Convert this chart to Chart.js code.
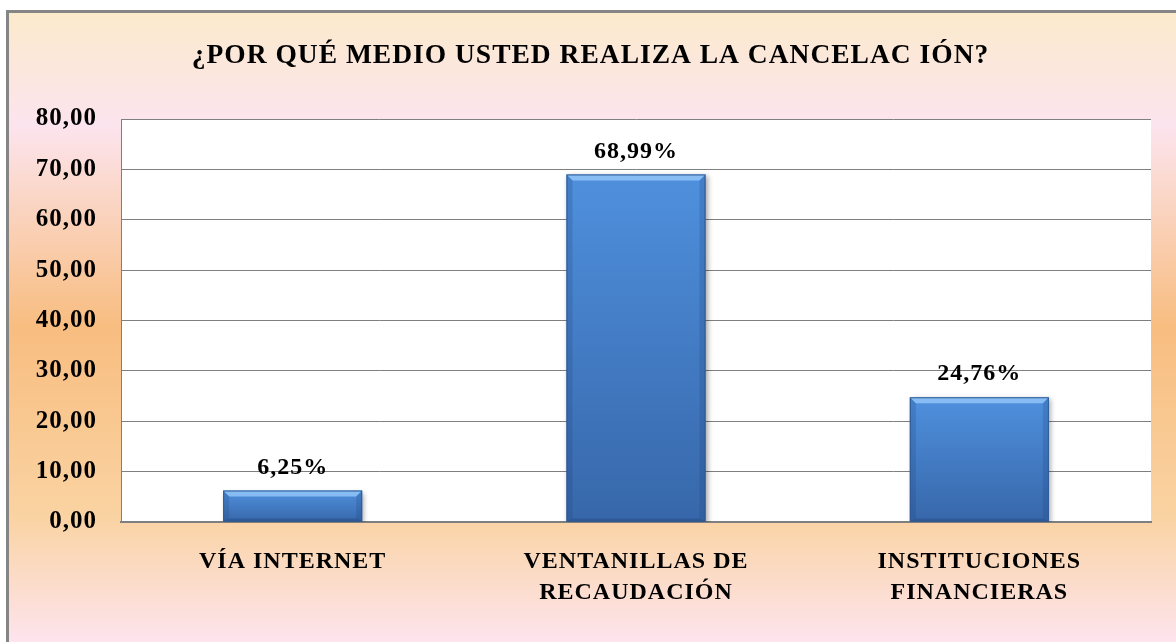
<!DOCTYPE html>
<html>
<head>
<meta charset="utf-8">
<script src="https://cdn.jsdelivr.net/npm/chart.js@4.4.1/dist/chart.umd.min.js"></script>
<style>
  html, body { margin: 0; padding: 0; background: #fff; }
</style>
</head>
<body>
<canvas id="chart" width="1176" height="642"></canvas>
<script>
const chartTitle = '¿POR QUÉ MEDIO USTED REALIZA LA CANCELAC IÓN?';
const categories = [['VÍA INTERNET'], ['VENTANILLAS DE', 'RECAUDACIÓN'], ['INSTITUCIONES', 'FINANCIERAS']];
const percentages = [6.25, 68.99, 24.76];
const yTicks = [0, 10, 20, 30, 40, 50, 60, 70, 80];

const serif = 'Liberation Serif, Times New Roman, serif';
const fmt = v => v.toFixed(2).replace('.', ',');

// page background, frame and white plot area
const backdrop = {
  id: 'backdrop',
  beforeDraw(chart) {
    const c = chart.ctx, a = chart.chartArea;
    c.save();
    c.fillStyle = '#fff';
    c.fillRect(0, 0, chart.width, chart.height);
    const g = c.createLinearGradient(0, 12, 0, chart.height);
    g.addColorStop(0, '#fbeacc');
    g.addColorStop(0.18, '#fce4ee');
    g.addColorStop(0.5, '#f8bd80');
    g.addColorStop(0.8, '#fad3a2');
    g.addColorStop(1, '#fde4ee');
    c.fillStyle = g;
    c.fillRect(8, 12, chart.width, chart.height);
    c.strokeStyle = '#858585';
    c.lineWidth = 3;
    c.strokeRect(7.5, 11.5, chart.width + 10, chart.height + 10);
    c.fillStyle = '#fff';
    c.fillRect(a.left, a.top, a.right - a.left, a.bottom - a.top);
    c.restore();
    c.letterSpacing = '1px';
  }
};

// soft shadow under the bars and a bevelled edge on top
const barLook = {
  id: 'barLook',
  beforeDatasetDraw(chart) {
    const c = chart.ctx;
    c.save();
    c.shadowColor = 'rgba(0,0,0,0.35)';
    c.shadowBlur = 5;
    c.shadowOffsetX = 2;
    c.shadowOffsetY = 2;
  },
  afterDatasetDraw(chart, args) {
    const c = chart.ctx;
    c.restore();
    args.meta.data.forEach(bar => {
      const l = bar.x - bar.width / 2, r = bar.x + bar.width / 2;
      const t = bar.y, b = bar.base, d = 6;
      c.save();
      c.fillStyle = 'rgba(150,200,250,0.8)';
      c.beginPath();
      c.moveTo(l, t); c.lineTo(r, t); c.lineTo(r - d, t + d); c.lineTo(l + d, t + d);
      c.closePath(); c.fill();
      c.fillStyle = 'rgba(25,60,115,0.2)';
      c.beginPath();
      c.moveTo(l, t); c.lineTo(l + d, t + d); c.lineTo(l + d, b - 3); c.lineTo(l, b);
      c.closePath(); c.fill();
      c.beginPath();
      c.moveTo(r, t); c.lineTo(r - d, t + d); c.lineTo(r - d, b - 3); c.lineTo(r, b);
      c.closePath(); c.fill();
      c.fillStyle = 'rgba(20,45,90,0.25)';
      c.beginPath();
      c.moveTo(l, b); c.lineTo(l + d, b - 3); c.lineTo(r - d, b - 3); c.lineTo(r, b);
      c.closePath(); c.fill();
      c.strokeStyle = '#2d5a94';
      c.lineWidth = 1;
      c.strokeRect(l + 0.5, t + 0.5, r - l - 1, b - t - 1);
      c.restore();
    });
  }
};

// percentage above each bar
const valueLabels = {
  id: 'valueLabels',
  afterDatasetsDraw(chart) {
    const c = chart.ctx;
    const meta = chart.getDatasetMeta(0);
    c.save();
    c.font = 'bold 24px ' + serif;
    c.fillStyle = '#000';
    c.textAlign = 'center';
    c.textBaseline = 'middle';
    meta.data.forEach((bar, i) => {
      c.fillText(fmt(percentages[i]) + '%', bar.x, bar.y - 23);
    });
    c.restore();
  }
};

new Chart(document.getElementById('chart'), {
  type: 'bar',
  data: {
    labels: categories,
    datasets: [{
      data: percentages,
      backgroundColor: function (ctx) {
        const chart = ctx.chart;
        if (!chart.chartArea) return '#4a86d0';
        const y = chart.scales.y;
        const top = y.getPixelForValue(ctx.raw);
        const base = y.getPixelForValue(0);
        const g = chart.ctx.createLinearGradient(0, top, 0, base);
        g.addColorStop(0, '#4f90dd');
        g.addColorStop(1, '#3767aa');
        return g;
      },
      borderWidth: 0,
      categoryPercentage: 1,
      barPercentage: 0.405
    }]
  },
  options: {
    responsive: false,
    animation: false,
    devicePixelRatio: 1,
    layout: { padding: { left: 30, right: 25, top: 0, bottom: 0 } },
    plugins: {
      legend: { display: false },
      tooltip: { enabled: false },
      title: {
        display: true,
        text: chartTitle,
        color: '#000',
        font: { family: serif, size: 27.5, weight: 'bold' },
        padding: { top: 39, bottom: 47 }
      }
    },
    scales: {
      x: {
        grid: { display: false, drawTicks: false },
        border: { color: '#7f7f7f', width: 2 },
        ticks: {
          color: '#000',
          font: { family: serif, size: 24, weight: 'bold', lineHeight: 1.3 },
          padding: 24,
          maxRotation: 0,
          autoSkip: false
        },
        afterFit: s => { s.height = 120; }
      },
      y: {
        min: 0,
        max: 80,
        afterBuildTicks: s => { s.ticks = yTicks.map(v => ({ value: v })); },
        grid: { color: '#7f7f7f', lineWidth: 1, drawTicks: false },
        border: { color: '#7f7f7f', width: 1 },
        ticks: {
          color: '#000',
          font: { family: serif, size: 25, weight: 'bold' },
          padding: 24,
          callback: v => fmt(v)
        },
        afterFit: s => { s.width = 91; }
      }
    }
  },
  plugins: [backdrop, barLook, valueLabels]
});
</script>
</body>
</html>
